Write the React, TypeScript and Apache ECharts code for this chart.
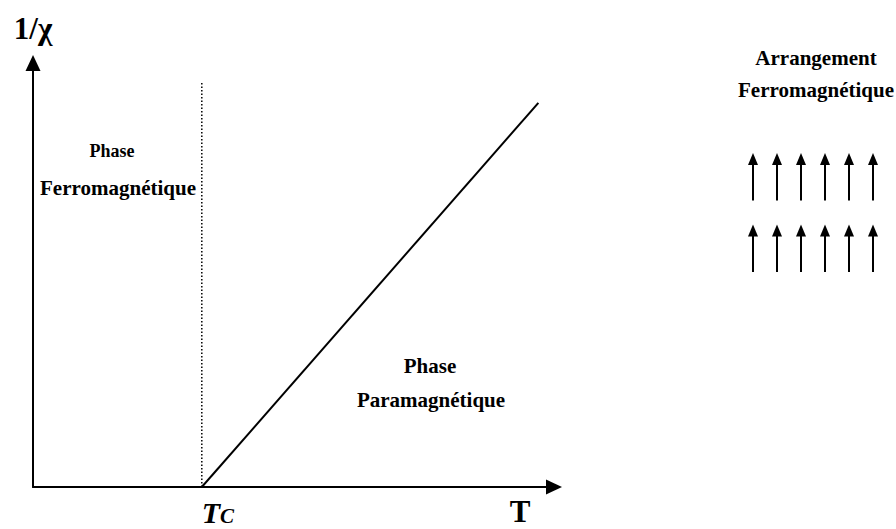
import React, { useEffect, useRef } from "react";
import * as echarts from "echarts";

// Temperature axis: Curie temperature and the 1/chi straight line (arbitrary units)
const T_C = 32.4;
const xRange = [0, 100];
const yRange = [0, 100];
const inverseSusceptibility: [number, number][] = [
  [32.4, 0],
  [97, 90.6],
];
const curieBoundary: [number, number][] = [
  [32.4, 0],
  [32.4, 95.5],
];

// Spin arrangement: [column, base, tip]
const spinColumns = [0, 1, 2, 3, 4, 5];
const spinRowBases = [0, 7.2];
const spinLength = 4.8;
const spins: [number, number, number][] = [
  [0, 7.2, 12], [1, 7.2, 12], [2, 7.2, 12], [3, 7.2, 12], [4, 7.2, 12], [5, 7.2, 12],
  [0, 0, 4.8], [1, 0, 4.8], [2, 0, 4.8], [3, 0, 4.8], [4, 0, 4.8], [5, 0, 4.8],
];

const SERIF = "Liberation Serif";

function text(str: string, x: number, y: number, size = 21) {
  return {
    type: "text",
    x,
    y,
    style: {
      text: str,
      fontFamily: SERIF,
      fontSize: size,
      fontWeight: "bold",
      fill: "#000",
      align: "center",
      verticalAlign: "middle",
      textAlign: "center",
      textVerticalAlign: "middle",
    },
  };
}

export default function App() {
  const ref = useRef<HTMLDivElement>(null);
  useEffect(() => {
    if (!ref.current) return;
    const chart = echarts.init(ref.current, undefined, { renderer: "svg" });
    const axisLine = {
      show: true,
      onZero: true,
      symbol: ["none", "triangle"],
      symbolSize: [15, 16],
      lineStyle: { color: "#000", width: 2 },
    };
    chart.setOption({
      animation: false,
      backgroundColor: "#fff",
      textStyle: { fontFamily: SERIF },
      grid: [
        { left: 33, right: 342, top: 63, bottom: 42 },
        { left: 753, right: 23, top: 153, bottom: 257 },
      ],
      xAxis: [
        {
          type: "value",
          gridIndex: 0,
          min: xRange[0],
          max: xRange[1],
          axisLine,
          axisTick: { show: false },
          splitLine: { show: false },
          axisLabel: {
            customValues: [T_C],
            margin: 10,
            align: "left",
            formatter: () => "{t|T}{c|C}",
            rich: {
              t: {
                fontFamily: SERIF,
                fontSize: 30,
                fontWeight: "bold",
                fontStyle: "italic",
                color: "#000",
                lineHeight: 26,
                verticalAlign: "top",
              },
              c: {
                fontFamily: SERIF,
                fontSize: 21,
                fontWeight: "bold",
                fontStyle: "italic",
                color: "#000",
                lineHeight: 18,
                padding: [8, 0, 0, 0],
                verticalAlign: "top",
              },
            },
          },
          name: "T",
          nameLocation: "end",
          nameGap: -34,
          nameTextStyle: {
            fontFamily: SERIF,
            fontSize: 31,
            fontWeight: "bold",
            color: "#000",
            align: "center",
            verticalAlign: "top",
            padding: [9, 0, 0, 0],
          },
        },
        {
          type: "value",
          gridIndex: 1,
          min: 0,
          max: spinColumns[spinColumns.length - 1],
          show: false,
        },
      ],
      yAxis: [
        {
          type: "value",
          gridIndex: 0,
          min: yRange[0],
          max: yRange[1],
          axisLine,
          axisTick: { show: false },
          splitLine: { show: false },
          axisLabel: { show: false },
          name: "1/χ",
          nameLocation: "end",
          nameGap: 19,
          nameTextStyle: {
            fontFamily: SERIF,
            fontSize: 31,
            fontWeight: "bold",
            color: "#000",
            align: "center",
            verticalAlign: "bottom",
          },
        },
        {
          type: "value",
          gridIndex: 1,
          min: spinRowBases[0],
          max: spinRowBases[1] + spinLength,
          show: false,
        },
      ],
      series: [
        {
          type: "line",
          xAxisIndex: 0,
          yAxisIndex: 0,
          data: inverseSusceptibility,
          symbol: "none",
          lineStyle: { color: "#000", width: 2 },
          silent: true,
        },
        {
          type: "line",
          xAxisIndex: 0,
          yAxisIndex: 0,
          data: curieBoundary,
          symbol: "none",
          lineStyle: { color: "#000", width: 1.5, type: [1.5, 2] },
          silent: true,
        },
        {
          type: "custom",
          xAxisIndex: 1,
          yAxisIndex: 1,
          data: spins,
          silent: true,
          renderItem: (params: any, api: any) => {
            const base = api.coord([api.value(0), api.value(1)]);
            const tip = api.coord([api.value(0), api.value(2)]);
            const headH = 12;
            const headW = 5;
            return {
              type: "group",
              children: [
                {
                  type: "line",
                  shape: { x1: base[0], y1: base[1], x2: tip[0], y2: tip[1] + headH - 1 },
                  style: { stroke: "#000", lineWidth: 2 },
                },
                {
                  type: "polygon",
                  shape: {
                    points: [
                      [tip[0], tip[1]],
                      [tip[0] + headW, tip[1] + headH],
                      [tip[0] - headW, tip[1] + headH],
                    ],
                  },
                  style: { fill: "#000" },
                },
              ],
            };
          },
        },
      ],
      graphic: [
        text("Phase", 112, 151, 18),
        text("Ferromagnétique", 118, 188),
        text("Phase", 430, 366),
        text("Paramagnétique", 431, 400),
        text("Arrangement", 816, 58),
        text("Ferromagnétique", 816, 90),
      ],
    });
    return () => chart.dispose();
  }, []);
  return (
    <div
      ref={ref}
      style={{ position: "fixed", left: 0, top: 0, width: 896, height: 529 }}
    />
  );
}
